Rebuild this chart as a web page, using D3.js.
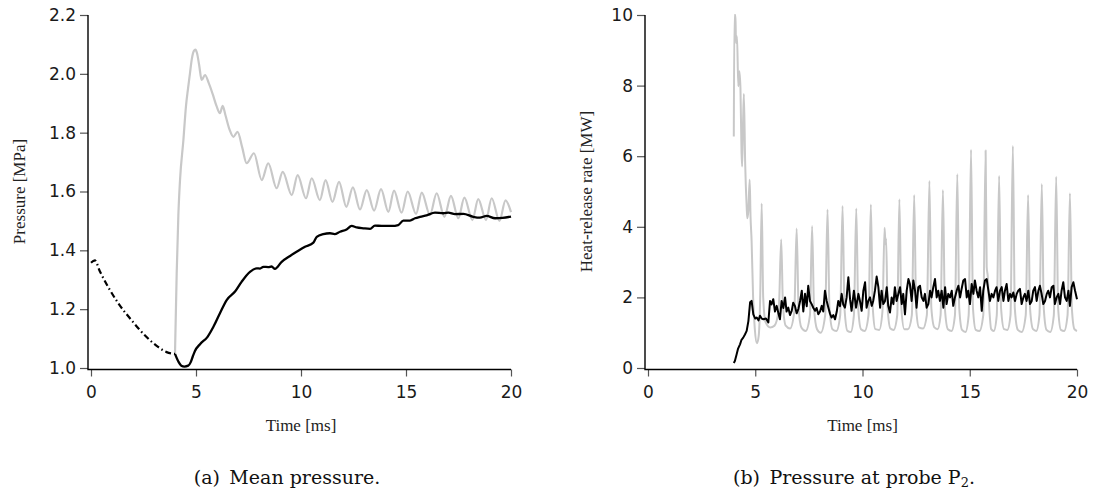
<!DOCTYPE html>
<html>
<head>
<meta charset="utf-8">
<script src="https://cdn.jsdelivr.net/npm/d3@7"></script>
<style>
  body { margin: 0; background: #fff; }
  svg { display: block; }
  .tick text { font-family: "DejaVu Sans", sans-serif; font-size: 17px; fill: #1a1a1a; }
  .tick line { stroke: #555; stroke-width: 1.2; }
  .lab { font-family: "Liberation Serif", serif; font-size: 17px; fill: #222; }
  .cap { font-family: "DejaVu Serif", serif; font-size: 19px; fill: #111; }
</style>
</head>
<body>
<svg id="fig" width="1094" height="495"></svg>
<script>
// shared time ticks [ms]
const timeTicks = [0, 5, 10, 15, 20];
const pressureTicks = [1.0, 1.2, 1.4, 1.6, 1.8, 2.0, 2.2];
const hrrTicks = [0, 2, 4, 6, 8, 10];

// (a) mean pressure [MPa], [t, p]
const meanBeforeIgnition = [
  [0, 1.358], [0.18, 1.366], [0.42, 1.329], [0.91, 1.264], [1.32, 1.218],
  [1.9, 1.165], [2.55, 1.112], [3.21, 1.071], [3.6, 1.054], [4.0, 1.048]
];
const meanBlack = [
  [4.0, 1.048], [4.16, 1.022], [4.3, 1.008], [4.45, 1.005], [4.63, 1.008],
  [4.75, 1.02], [4.85, 1.04], [4.95, 1.058], [5.19, 1.081], [5.55, 1.106],
  [5.83, 1.14], [6.14, 1.186], [6.46, 1.231], [6.86, 1.26], [7.17, 1.293],
  [7.57, 1.327], [7.89, 1.339], [8.05, 1.338], [8.21, 1.344], [8.44, 1.343],
  [8.6, 1.345], [8.76, 1.337], [9.08, 1.361], [9.48, 1.381], [9.79, 1.395],
  [10.19, 1.412], [10.59, 1.426], [10.75, 1.446], [11.06, 1.455], [11.38, 1.458],
  [11.6, 1.455], [11.86, 1.463], [12.17, 1.471], [12.41, 1.483], [12.65, 1.478],
  [12.97, 1.475], [13.29, 1.473], [13.52, 1.484], [13.84, 1.483], [14.32, 1.483],
  [14.63, 1.486], [14.87, 1.501], [15.19, 1.501], [15.43, 1.509], [15.67, 1.514],
  [15.98, 1.519], [16.38, 1.528], [16.78, 1.526], [17.02, 1.528], [17.33, 1.523],
  [17.73, 1.524], [18.2, 1.514], [18.52, 1.511], [18.84, 1.517], [19.24, 1.509],
  [19.6, 1.51], [20.0, 1.515]
];
const meanGrey = [
  [4.0, 1.05], [4.08, 1.32], [4.16, 1.52], [4.24, 1.64], [4.4, 1.775],
  [4.52, 1.888], [4.62, 1.95], [4.71, 2.0], [4.8, 2.05], [4.9, 2.078],
  [4.97, 2.082], [5.05, 2.07], [5.15, 2.03], [5.27, 1.979], [5.43, 1.996],
  [5.6, 1.97], [5.8, 1.93], [5.98, 1.89], [6.14, 1.866], [6.27, 1.891],
  [6.4, 1.86], [6.6, 1.81], [6.78, 1.786], [6.98, 1.803], [7.2, 1.75],
  [7.41, 1.696], [7.76, 1.73], [8.13, 1.639], [8.44, 1.696], [8.84, 1.611],
  [9.13, 1.667], [9.56, 1.588], [9.84, 1.656], [10.24, 1.577], [10.51, 1.645],
  [10.9, 1.571], [11.17, 1.639], [11.5, 1.565], [11.81, 1.633], [12.16, 1.548],
  [12.47, 1.614], [12.81, 1.539], [13.13, 1.605], [13.48, 1.535], [13.81, 1.608],
  [14.16, 1.531], [14.43, 1.603], [14.79, 1.528], [15.08, 1.6], [15.48, 1.524],
  [15.75, 1.596], [16.14, 1.52], [16.46, 1.594], [16.83, 1.514], [17.14, 1.585],
  [17.49, 1.509], [17.78, 1.579], [18.16, 1.503], [18.44, 1.574], [18.81, 1.503],
  [19.08, 1.577], [19.45, 1.5], [19.74, 1.57], [20.0, 1.53]
];

// (b) heat-release rate [MW], [t, q]
const hrrGrey = [
  [4.0, 6.56], [4.03, 10], [4.08, 10], [4.1, 9.21], [4.15, 9.4], [4.21, 7.98],
  [4.26, 8.41], [4.31, 7.93], [4.36, 6.1], [4.39, 5.71], [4.43, 6.9], [4.47, 7.76],
  [4.53, 5.8], [4.6, 4.57], [4.63, 4.24], [4.68, 4.47], [4.74, 5.33], [4.78, 4.3],
  [4.83, 3.6], [4.9, 2.0], [4.98, 1.1], [5.08, 0.7], [5.16, 0.9], [5.23, 2.0],
  [5.3, 4.66], [5.37, 2.0], [5.48, 1.3], [5.7, 1.15], [5.9, 1.2], [6.1, 1.7],
  [6.21, 3.64], [6.29, 1.8], [6.42, 1.2], [6.62, 1.12], [6.82, 1.6], [6.93, 3.95],
  [7.02, 1.7], [7.15, 1.15], [7.35, 1.05], [7.55, 1.5], [7.65, 4.02], [7.74, 1.7],
  [7.88, 1.1], [8.05, 1.0], [8.26, 1.5], [8.37, 4.49], [8.46, 1.7], [8.6, 1.1],
  [8.78, 1.05], [8.96, 1.5], [9.07, 4.59], [9.16, 1.7], [9.3, 1.05], [9.45, 1.02],
  [9.6, 1.5], [9.71, 4.52], [9.8, 1.7], [9.93, 1.1], [10.1, 1.05], [10.28, 1.5],
  [10.39, 4.63], [10.48, 1.7], [10.6, 1.1], [10.78, 1.08], [10.93, 1.6], [11.03, 3.97],
  [11.07, 3.5], [11.1, 3.67], [11.17, 1.7], [11.3, 1.12], [11.45, 1.08], [11.62, 1.5],
  [11.72, 4.78], [11.81, 1.7], [11.95, 1.1], [12.12, 1.1], [12.3, 1.5], [12.41, 4.9],
  [12.5, 1.7], [12.63, 1.15], [12.82, 1.12], [13.0, 1.5], [13.12, 5.3], [13.21, 1.7],
  [13.35, 1.15], [13.5, 1.1], [13.64, 1.5], [13.75, 5.04], [13.84, 1.7], [13.98, 1.1],
  [14.15, 1.05], [14.31, 1.5], [14.42, 5.49], [14.51, 1.7], [14.64, 1.08], [14.8, 1.02],
  [14.95, 1.5], [15.06, 6.18], [15.15, 1.7], [15.28, 1.08], [15.45, 1.05], [15.63, 1.5],
  [15.74, 6.16], [15.79, 2.86], [15.84, 2.6], [15.92, 1.6], [16.0, 1.1], [16.12, 1.05],
  [16.26, 1.5], [16.37, 5.44], [16.46, 1.7], [16.6, 1.1], [16.75, 1.08], [16.9, 1.5],
  [17.01, 6.29], [17.1, 1.7], [17.24, 1.08], [17.42, 1.02], [17.61, 1.5], [17.72, 4.9],
  [17.81, 1.7], [17.95, 1.1], [18.1, 1.05], [18.25, 1.5], [18.36, 5.21], [18.45, 1.7],
  [18.58, 1.08], [18.75, 1.02], [18.92, 1.5], [19.03, 5.42], [19.12, 1.7], [19.25, 1.08],
  [19.4, 1.05], [19.56, 1.5], [19.67, 4.95], [19.76, 1.7], [19.88, 1.1], [20.0, 1.05]
];
const hrrBlack = [
  [4.0, 0.14], [4.05, 0.2], [4.13, 0.38], [4.2, 0.55], [4.29, 0.67], [4.36, 0.8],
  [4.44, 0.86], [4.52, 0.95], [4.6, 1.05], [4.68, 1.33], [4.76, 1.86], [4.83, 1.9],
  [4.91, 1.52], [5.0, 1.4], [5.07, 1.43], [5.15, 1.35], [5.22, 1.48], [5.3, 1.4],
  [5.38, 1.38], [5.5, 1.4], [5.61, 1.29], [5.65, 1.6], [5.69, 1.9], [5.76, 1.8],
  [5.84, 1.95], [5.92, 1.6], [6.0, 1.76], [6.08, 1.55], [6.15, 1.38], [6.23, 1.9],
  [6.31, 1.7], [6.39, 2.0], [6.46, 1.6], [6.54, 1.71], [6.62, 1.5], [6.7, 1.62],
  [6.77, 1.85], [6.85, 1.76], [6.93, 1.55], [7.01, 1.67], [7.09, 1.9], [7.17, 2.19],
  [7.24, 1.6], [7.32, 2.1], [7.4, 1.75], [7.47, 2.33], [7.55, 1.9], [7.63, 1.81],
  [7.71, 1.7], [7.79, 1.62], [7.86, 1.7], [7.94, 1.52], [8.02, 1.6], [8.1, 1.76],
  [8.17, 1.6], [8.25, 2.19], [8.33, 1.9], [8.41, 1.71], [8.48, 1.55], [8.56, 1.43],
  [8.64, 1.5], [8.72, 1.38], [8.8, 1.6], [8.87, 1.9], [8.95, 1.75], [9.03, 2.1],
  [9.1, 1.8], [9.18, 1.71], [9.26, 2.0], [9.34, 2.57], [9.42, 1.95],
  [9.49, 1.62], [9.6, 2.19], [9.7, 1.71], [9.81, 2.1], [9.88, 1.9], [9.96, 1.62],
  [10.04, 2.19], [10.12, 2.43], [10.19, 1.71], [10.27, 1.9], [10.35, 2.0], [10.43, 1.76],
  [10.5, 1.9], [10.58, 2.19], [10.66, 2.59], [10.74, 2.29], [10.82, 1.71], [10.89, 2.19],
  [10.97, 1.81], [11.05, 1.9], [11.13, 2.29], [11.2, 1.76], [11.28, 1.57], [11.36, 2.0],
  [11.44, 1.81], [11.51, 2.29], [11.59, 1.9], [11.67, 2.1], [11.75, 2.29], [11.83, 1.81],
  [11.9, 2.1], [11.98, 1.52], [12.06, 2.19], [12.14, 2.52], [12.21, 2.38], [12.29, 1.9],
  [12.37, 2.48], [12.45, 2.19], [12.52, 1.71], [12.6, 2.29], [12.68, 2.33], [12.76, 2.0],
  [12.84, 1.9], [12.91, 2.1], [12.99, 1.71], [13.07, 1.81], [13.15, 2.19], [13.22, 2.0],
  [13.3, 2.29], [13.38, 2.52], [13.46, 2.0], [13.53, 2.19], [13.61, 1.9], [13.69, 2.19],
  [13.77, 1.71], [13.85, 2.29], [13.92, 1.81], [14.0, 2.1], [14.08, 2.0], [14.16, 2.19],
  [14.23, 1.76], [14.31, 2.0], [14.39, 2.19], [14.47, 2.33], [14.55, 2.0], [14.62, 2.24],
  [14.7, 2.48], [14.78, 2.52], [14.86, 2.0], [14.93, 2.19], [15.01, 1.81], [15.09, 2.38],
  [15.17, 2.1], [15.24, 2.48], [15.32, 2.19], [15.4, 2.0], [15.48, 2.29], [15.56, 1.62],
  [15.63, 2.19], [15.71, 2.48], [15.79, 2.52], [15.87, 2.19], [15.94, 1.9], [16.02, 2.1],
  [16.1, 2.0], [16.18, 2.19], [16.25, 2.29], [16.33, 1.9], [16.41, 2.19], [16.49, 2.29],
  [16.57, 1.9], [16.64, 2.19], [16.72, 2.38], [16.8, 1.9], [16.88, 2.1], [16.95, 2.0],
  [17.03, 2.14], [17.11, 1.9], [17.19, 2.1], [17.26, 2.19], [17.34, 2.24], [17.42, 1.81],
  [17.5, 2.0], [17.57, 2.1], [17.65, 1.9], [17.73, 2.19], [17.81, 1.81], [17.89, 1.9],
  [17.96, 2.19], [18.04, 2.29], [18.12, 1.9], [18.2, 2.19], [18.27, 2.33], [18.35, 2.1],
  [18.43, 1.81], [18.51, 1.9], [18.59, 2.1], [18.66, 2.19], [18.74, 2.0], [18.82, 2.29],
  [18.9, 2.33], [18.97, 1.81], [19.05, 2.0], [19.13, 2.1], [19.21, 1.81], [19.28, 2.19],
  [19.36, 2.43], [19.44, 2.0], [19.52, 1.9], [19.6, 2.19], [19.67, 1.76], [19.75, 2.29],
  [19.83, 2.43], [19.91, 2.19], [20.0, 1.95]
];

const svg = d3.select("#fig");

// one sub-figure: axes + labels, returns the scales
function panel(o) {
  const x = d3.scaleLinear().domain([0, 20]).range(o.xr);
  const y = d3.scaleLinear().domain(o.yd).range(o.yr);
  const g = svg.append("g");

  g.append("g")
    .attr("transform", `translate(0,${o.axisY})`)
    .call(d3.axisBottom(x).tickValues(timeTicks).tickSize(7).tickPadding(9))
    .call((a) => a.select(".domain").remove());

  g.append("g")
    .attr("transform", `translate(${o.axisX},0)`)
    .call(d3.axisLeft(y).tickValues(o.yt).tickFormat(o.fmt).tickSize(8).tickPadding(4))
    .call((a) => a.select(".domain").remove());

  // L-shaped frame, no top/right
  g.append("path")
    .attr("d", `M${o.axisX},${y(o.yd[1])}V${o.axisY}H${x(20)}`)
    .attr("fill", "none")
    .attr("stroke", "#000")
    .attr("stroke-width", 1.4);

  g.append("text")
    .attr("class", "lab")
    .attr("text-anchor", "middle")
    .attr("x", (o.xr[0] + o.xr[1]) / 2)
    .attr("y", 431)
    .text("Time [ms]");

  g.append("text")
    .attr("class", "lab")
    .attr("text-anchor", "middle")
    .attr("dominant-baseline", "central")
    .attr("transform", `translate(${o.ylabX},191.5) rotate(-90)`)
    .text(o.ylab);

  return { x, y, g };
}

function drawLine(p, data, color, width, curve, dash) {
  const line = d3.line()
    .x((d) => p.x(d[0]))
    .y((d) => p.y(d[1]))
    .curve(curve);
  const path = p.g.append("path")
    .datum(data)
    .attr("fill", "none")
    .attr("stroke", color)
    .attr("stroke-width", width)
    .attr("stroke-linejoin", "round")
    .attr("d", line);
  if (dash) path.attr("stroke-dasharray", dash);
}

// (a)
const pa = panel({
  xr: [91, 511], yd: [1.0, 2.2], yr: [368, 15],
  axisX: 88, axisY: 369.5, yt: pressureTicks, fmt: d3.format(".1f"),
  ylabX: 19, ylab: "Pressure [MPa]"
});
drawLine(pa, meanGrey, "#c8c8c8", 2.2, d3.curveMonotoneX);
drawLine(pa, meanBeforeIgnition, "#000", 2.2, d3.curveMonotoneX, "6,3,1.5,3");
drawLine(pa, meanBlack, "#000", 2.3, d3.curveMonotoneX);

// (b)
const pb = panel({
  xr: [648, 1077], yd: [0, 10], yr: [368, 15],
  axisX: 645, axisY: 369.5, yt: hrrTicks, fmt: d3.format("d"),
  ylabX: 586, ylab: "Heat-release rate [MW]"
});
drawLine(pb, hrrGrey, "#c8c8c8", 2.0, d3.curveMonotoneX);
drawLine(pb, hrrBlack, "#000", 2.0, d3.curveLinear);

// captions
svg.append("text")
  .attr("class", "cap")
  .attr("text-anchor", "middle")
  .attr("x", 287)
  .attr("y", 484)
  .text("(a)\u2002Mean pressure.");

const capB = svg.append("text")
  .attr("class", "cap")
  .attr("text-anchor", "middle")
  .attr("x", 854)
  .attr("y", 484);
capB.append("tspan").text("(b)\u2002Pressure at probe P");
capB.append("tspan").attr("font-size", "13px").attr("dy", 3).text("2");
capB.append("tspan").attr("dy", -3).text(".");
</script>
</body>
</html>
